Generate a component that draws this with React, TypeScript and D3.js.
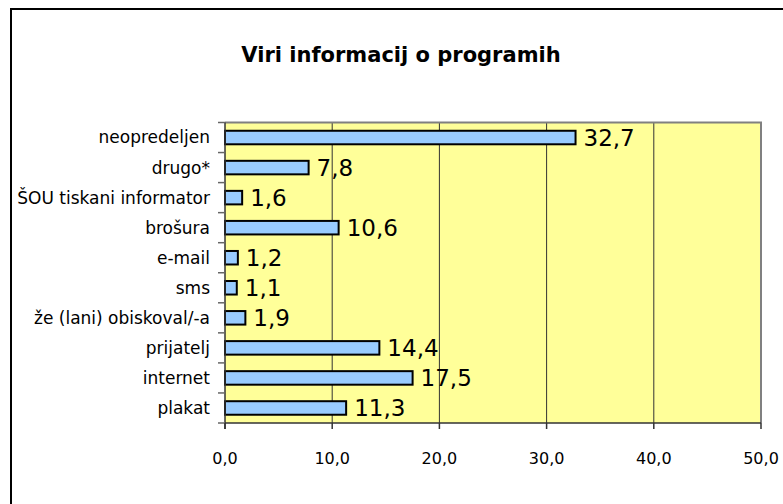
import React from "react";
import * as d3 from "d3";

const categories = [
	"neopredeljen",
	"drugo*",
	"ŠOU tiskani informator",
	"brošura",
	"e-mail",
	"sms",
	"že (lani) obiskoval/-a",
	"prijatelj",
	"internet",
	"plakat",
];
const values = [32.7, 7.8, 1.6, 10.6, 1.2, 1.1, 1.9, 14.4, 17.5, 11.3];
const xTicks = [0, 10, 20, 30, 40, 50];
const title = "Viri informacij o programih";

const fmt = (v: number) => v.toFixed(1).replace(".", ",");

export default function App() {
	const width = 783;
	const height = 504;
	const left = 225;
	const right = 761;
	const top = 122.5;
	const bottom = 423;
	const font = "'DejaVu Sans', sans-serif";

	const x = d3.scaleLinear().domain([0, 50]).range([left, right]);
	const y = d3
		.scaleBand<string>()
		.domain(categories)
		.range([top, bottom])
		.paddingInner(0.55)
		.paddingOuter(0.275);
	const band = (bottom - top) / categories.length;

	return (
		<svg
			width={width}
			height={height}
			style={{ position: "absolute", left: 0, top: 0, background: "#fff" }}
		>
			{/* outer frame */}
			<rect x={11} y={9} width={800} height={520} fill="#fff" stroke="#000" strokeWidth={2} />

			<text
				x={401}
				y={62}
				textAnchor="middle"
				fontFamily={font}
				fontWeight="bold"
				fontSize={21}
				fill="#000"
			>
				{title}
			</text>

			{/* plot area */}
			<rect x={left} y={top} width={right - left} height={bottom - top} fill="#FFFF99" />

			{/* gridlines */}
			{xTicks.slice(1, -1).map((t) => (
				<line key={t} x1={x(t)} x2={x(t)} y1={top} y2={bottom} stroke="#333" strokeWidth={1} />
			))}

			{/* plot border top/right */}
			<polyline
				points={`${left},${top} ${right},${top} ${right},${bottom}`}
				fill="none"
				stroke="#808080"
				strokeWidth={2}
			/>

			{/* bars */}
			{categories.map((c, i) => (
				<g key={c}>
					<rect
						x={x(0)}
						y={y(c)}
						width={x(values[i]) - x(0)}
						height={y.bandwidth()}
						fill="#99CCFF"
						stroke="#000"
						strokeWidth={2}
					/>
					<text
						x={x(values[i]) + 8}
						y={(y(c) || 0) + y.bandwidth() / 2}
						dy="0.36em"
						fontFamily={font}
						fontSize={23}
						fill="#000"
					>
						{fmt(values[i])}
					</text>
				</g>
			))}

			{/* y axis */}
			<line x1={left} x2={left} y1={top} y2={bottom + 6} stroke="#333" strokeWidth={1.5} />
			{d3.range(categories.length + 1).map((i) => (
				<line
					key={i}
					x1={left - 7}
					x2={left}
					y1={top + i * band}
					y2={top + i * band}
					stroke="#666"
					strokeWidth={1.5}
				/>
			))}
			{categories.map((c) => (
				<text
					key={c}
					x={210}
					y={(y(c) || 0) + y.bandwidth() / 2}
					dy="0.35em"
					textAnchor="end"
					fontFamily={font}
					fontSize={17}
					fill="#000"
				>
					{c}
				</text>
			))}

			{/* x axis */}
			<line x1={left} x2={right} y1={bottom} y2={bottom} stroke="#333" strokeWidth={1.5} />
			{xTicks.map((t) => (
				<g key={t}>
					<line x1={x(t)} x2={x(t)} y1={bottom} y2={bottom + 6} stroke="#333" strokeWidth={1.5} />
					<text
						x={x(t)}
						y={464}
						textAnchor="middle"
						fontFamily={font}
						fontSize={16}
						fill="#000"
					>
						{fmt(t)}
					</text>
				</g>
			))}
		</svg>
	);
}
